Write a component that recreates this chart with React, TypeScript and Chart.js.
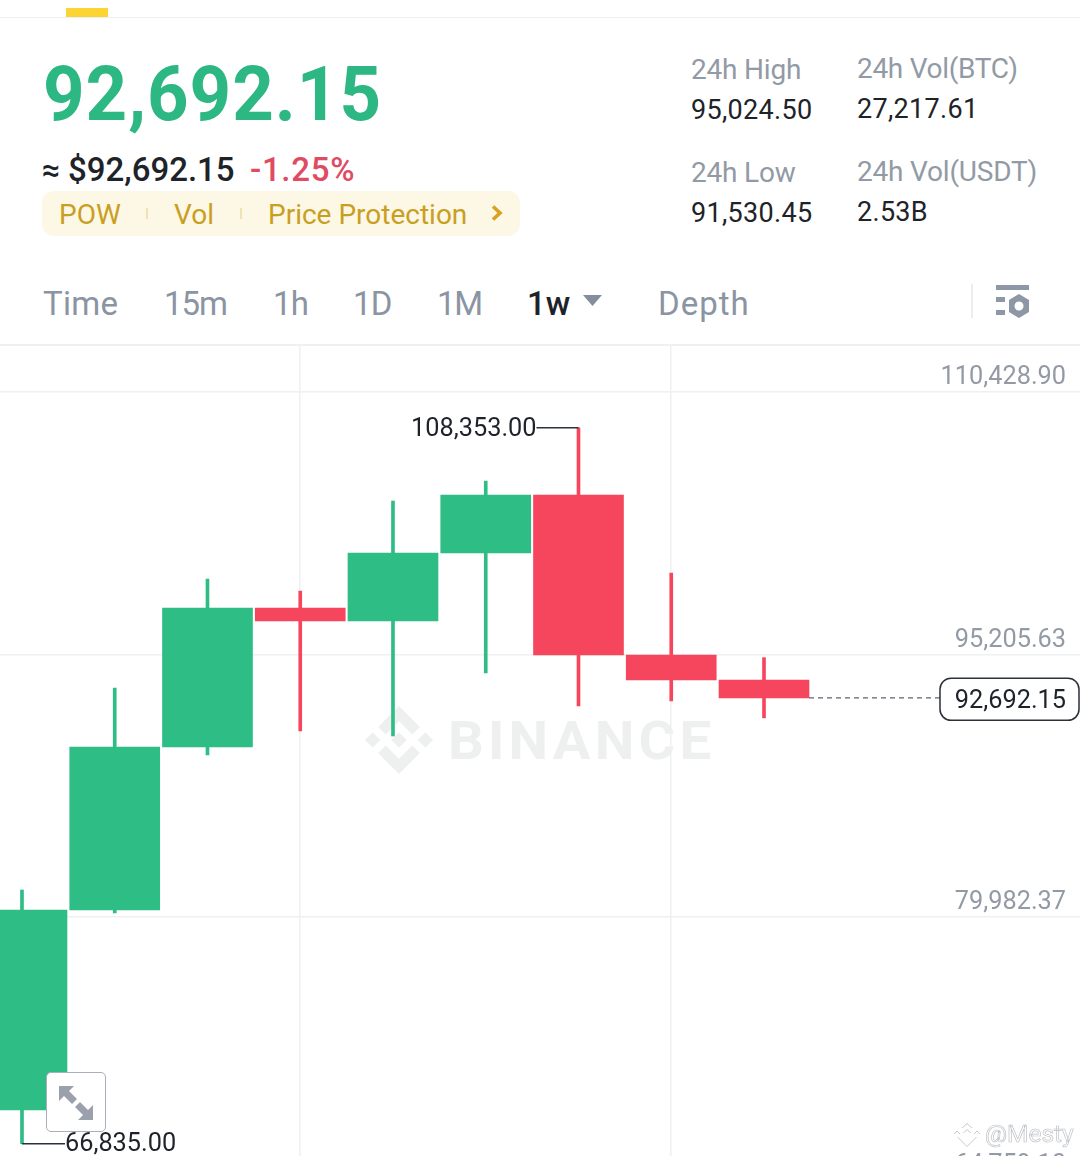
import React, { useEffect, useRef } from "react";
import { Chart, registerables } from "chart.js";

Chart.register(...registerables);

const candleIndex = [0, 1, 2, 3, 4, 5, 6, 7, 8];
const opens = [68792, 80390, 89843, 97903, 97149, 101093, 104456, 95178, 93728];
const highs = [81550, 93264, 99585, 98889, 104108, 105268, 108353, 99933, 95024.5];
const lows = [66835, 80216, 89379, 90770, 90480, 94134, 92220, 92510, 91530.45];
const closes = [80390, 89843, 97903, 97149, 101093, 104456, 95178, 93728, 92692.15];
const priceTicks = [110428.9, 95205.63, 79982.37, 64759.1];
const dateGridIndex = [3, 7];
const tabs = ["Time", "15m", "1h", "1D", "1M", "1w", "Depth"];
const lastPrice = 92692.15;
const highMark = 108353;
const lowMark = 66835;

const GREEN = "#2EBD85";
const RED = "#F6465D";
const GRID = "#EEF0F2";
const FONT = "Roboto, sans-serif";
const fmt = (v: number) =>
  v.toLocaleString("en-US", { minimumFractionDigits: 2, maximumFractionDigits: 2 });
const candleColors = opens.map((o, i) => (closes[i] >= o ? GREEN : RED));

const marksPlugin = {
  id: "marks",
  afterDatasetsDraw(chart: any) {
    const { ctx } = chart;
    const xs = chart.scales.x;
    const ys = chart.scales.y;
    const dark = "#2B3139";
    ctx.save();
    ctx.font = `25.3px ${FONT}`;
    ctx.textBaseline = "middle";

    // highest-price mark
    const hi = highs.indexOf(highMark);
    const hx = xs.getPixelForValue(hi);
    const hy = ys.getPixelForValue(highMark);
    ctx.strokeStyle = dark;
    ctx.lineWidth = 1.5;
    ctx.beginPath();
    ctx.moveTo(hx, hy);
    ctx.lineTo(hx - 42, hy);
    ctx.stroke();
    ctx.fillStyle = "#1E2329";
    ctx.textAlign = "right";
    ctx.fillText(fmt(highMark), hx - 42, hy + 1.5);

    // lowest-price mark
    const li = lows.indexOf(lowMark);
    const lx = xs.getPixelForValue(li);
    const ly = ys.getPixelForValue(lowMark);
    ctx.beginPath();
    ctx.moveTo(lx, ly);
    ctx.lineTo(lx + 43, ly);
    ctx.stroke();
    ctx.textAlign = "left";
    ctx.fillText(fmt(lowMark), lx + 43, ly + 1);

    // last price line and tag
    const py = ys.getPixelForValue(lastPrice);
    const bodyRight = xs.getPixelForValue(candleIndex[candleIndex.length - 1]) + 45;
    const tagLeft = 940;
    ctx.setLineDash([5, 4]);
    ctx.lineWidth = 1.2;
    ctx.strokeStyle = "#5E6673";
    ctx.beginPath();
    ctx.moveTo(bodyRight, py);
    ctx.lineTo(tagLeft, py);
    ctx.stroke();
    ctx.setLineDash([]);
    ctx.fillStyle = "#FFFFFF";
    ctx.strokeStyle = dark;
    ctx.lineWidth = 1.5;
    ctx.beginPath();
    ctx.roundRect(tagLeft, py - 19.5, 139, 42, 11);
    ctx.fill();
    ctx.stroke();
    ctx.fillStyle = "#1E2329";
    ctx.textAlign = "right";
    ctx.fillText(fmt(lastPrice), 1066, py + 3.5);
    ctx.restore();
  },
};

function Txt({ x, y, size, color, weight, spacing, sx, children }: any) {
  return (
    <div
      style={{
        position: "absolute",
        left: x,
        top: y,
        transform: `translateY(-50%) scaleX(${sx ?? 1})`,
        transformOrigin: "left center",
        fontSize: size,
        color,
        fontWeight: weight ?? 400,
        letterSpacing: spacing ?? 0,
        whiteSpace: "nowrap",
        lineHeight: 1.2,
      }}
    >
      {children}
    </div>
  );
}

function Diamond({ x, y, size, color }: any) {
  return (
    <svg
      style={{ position: "absolute", left: x, top: y }}
      width={size}
      height={size}
      viewBox="0 0 126.61 126.61"
    >
      <path
        fill={color}
        d="M38.73 53.2l24.59-24.58 24.6 24.6 14.3-14.31L63.32 0 24.43 38.9zM0 63.31l14.3-14.31 14.31 14.31-14.31 14.3zM38.73 73.41l24.59 24.59 24.6-24.6 14.31 14.29-38.9 38.91-38.91-38.88-.02-.02zM98.04 63.31l14.3-14.3 14.31 14.3-14.31 14.3zM77.83 63.3L63.32 48.78 52.59 59.51l-1.24 1.23-2.54 2.54 14.51 14.5 14.51-14.47z"
      />
    </svg>
  );
}

const noPad = (s: any) => {
  s.paddingTop = 0;
  s.paddingBottom = 0;
  s.paddingLeft = 0;
  s.paddingRight = 0;
};

export default function App() {
  const ref = useRef<HTMLCanvasElement | null>(null);

  useEffect(() => {
    if (!ref.current) return;
    const chart = new Chart(ref.current, {
      type: "bar",
      data: {
        datasets: [
          {
            label: "Wick",
            data: candleIndex.map((i) => ({ x: i, y: [lows[i], highs[i]] })),
            backgroundColor: candleColors,
            barThickness: 3,
            grouped: false,
            order: 2,
          },
          {
            label: "Body",
            data: candleIndex.map((i) => ({ x: i, y: [opens[i], closes[i]] })),
            backgroundColor: candleColors,
            barThickness: 90,
            grouped: false,
            order: 1,
          },
        ],
      } as any,
      options: {
        responsive: false,
        animation: false,
        devicePixelRatio: 1,
        layout: { padding: 0 },
        plugins: { legend: { display: false }, tooltip: { enabled: false } },
        scales: {
          x: {
            type: "linear",
            min: -0.237,
            max: 11.407,
            offset: false,
            border: { display: false },
            ticks: { display: false, autoSkip: false },
            grid: { color: GRID, lineWidth: 1.5, drawTicks: false, offset: false },
            afterBuildTicks: (s: any) => {
              s.ticks = dateGridIndex.map((value) => ({ value }));
            },
            afterFit: (s: any) => {
              s.height = 0;
              noPad(s);
            },
          },
          y: {
            type: "linear",
            position: "right",
            min: 66122.7,
            max: 113154.5,
            border: { display: false },
            grid: { color: GRID, lineWidth: 1.5, drawTicks: false },
            ticks: {
              mirror: true,
              padding: -14,
              autoSkip: false,
              labelOffset: -14,
              color: "#929AA5",
              font: { family: "Roboto", size: 25.3 },
              callback: (v: any) => fmt(Number(v)),
            },
            afterBuildTicks: (s: any) => {
              s.ticks = priceTicks.map((value) => ({ value }));
            },
            afterFit: (s: any) => {
              s.width = 0;
              noPad(s);
            },
          },
        },
      } as any,
      plugins: [marksPlugin],
    });
    return () => chart.destroy();
  }, []);

  const grey = "#929AA5";
  const black = "#1E2329";
  const gold = "#C99F22";
  const tabX = [43, 164, 273, 353, 437, 527, 658];
  const tabSpacing = [0.3, -1, -0.7, -0.7, -1.2, 0, 1];

  return (
    <div
      style={{
        position: "fixed",
        left: 0,
        top: 0,
        width: 1080,
        height: 1156,
        overflow: "hidden",
        background: "#FFFFFF",
        fontFamily: FONT,
      }}
    >
      <div style={{ position: "absolute", left: 0, top: 17, width: 1080, height: 1, background: "#ECEEF0" }} />
      <div style={{ position: "absolute", left: 66, top: 8, width: 42, height: 9, background: "#FCD535" }} />

      <Txt x={43} y={95} size={76} color="#2DB783" weight={700} sx={0.955} spacing={1}>92,692.15</Txt>
      <Txt x={42} y={170} size={32} color={black} weight={500}>≈</Txt>
      <Txt x={68} y={170} size={33} color={black} weight={500}>$92,692.15</Txt>
      <Txt x={250} y={170} size={33} color="#DF4B63" weight={500} spacing={0.7}>-1.25%</Txt>

      <div style={{ position: "absolute", left: 42, top: 191, width: 478, height: 45, borderRadius: 12, background: "#FDF7E6" }} />
      <Txt x={59} y={215} size={28} color={gold}>POW</Txt>
      <div style={{ position: "absolute", left: 146, top: 208, width: 2, height: 11, background: "#EFE2B5" }} />
      <Txt x={174} y={215} size={28} color={gold}>Vol</Txt>
      <div style={{ position: "absolute", left: 240, top: 208, width: 2, height: 11, background: "#EFE2B5" }} />
      <Txt x={268} y={215} size={28} color={gold}>Price Protection</Txt>
      <svg style={{ position: "absolute", left: 490, top: 204 }} width={14} height={18} viewBox="0 0 14 18">
        <path d="M3 2.5 L10 9 L3 15.5" fill="none" stroke="#D8A31E" strokeWidth={3.6} />
      </svg>

      <Txt x={691} y={70} size={28} color={grey} spacing={-0.2}>24h High</Txt>
      <Txt x={691} y={110} size={27} color={black} spacing={0.3}>95,024.50</Txt>
      <Txt x={691} y={173} size={28} color={grey} spacing={-0.2}>24h Low</Txt>
      <Txt x={691} y={213} size={27} color={black} spacing={0.3}>91,530.45</Txt>
      <Txt x={857} y={69} size={28} color={grey} spacing={-0.3}>24h Vol(BTC)</Txt>
      <Txt x={857} y={109} size={27} color={black} spacing={0.3}>27,217.61</Txt>
      <Txt x={857} y={172} size={28} color={grey} spacing={-0.2}>24h Vol(USDT)</Txt>
      <Txt x={857} y={212} size={27} color={black} spacing={0.3}>2.53B</Txt>

      {tabs.map((t, i) => (
        <Txt
          key={t}
          x={tabX[i]}
          y={304}
          size={33}
          color={t === "1w" ? black : "#8A94A2"}
          weight={t === "1w" ? 500 : 400}
          spacing={tabSpacing[i]}
        >
          {t}
        </Txt>
      ))}
      <svg style={{ position: "absolute", left: 582, top: 294 }} width={21} height={14} viewBox="0 0 21 14">
        <path d="M1 1 H20 L10.5 12 Z" fill="#848E9C" />
      </svg>
      <div style={{ position: "absolute", left: 971, top: 284, width: 2, height: 34, background: "#EAECEF" }} />
      <svg style={{ position: "absolute", left: 995, top: 284 }} width={36} height={36} viewBox="0 0 36 36">
        <g fill="#8E97A5">
          <rect x="1" y="1" width="33" height="5" />
          <rect x="1" y="13" width="9" height="5" />
          <rect x="1" y="26" width="9" height="5" />
          <path fillRule="evenodd" d="M24 10 L34 16 V28 L24 34 L14 28 V16 Z M24 17.5 a4.5 4.5 0 1 0 0.01 0 Z" />
        </g>
      </svg>

      <div style={{ position: "absolute", left: 0, top: 344, width: 1080, height: 2, background: "#EEF0F2" }} />

      {/* watermark sits under the transparent chart canvas */}
      <Diamond x={365} y={706} size={68} color="#EEF0F0" />
      <Txt x={448} y={741} size={54} color="#EEF0F0" weight={700} sx={1.04} spacing={4}>BINANCE</Txt>

      <canvas
        ref={ref}
        width={1080}
        height={811}
        style={{ position: "absolute", left: 0, top: 345, width: 1080, height: 811 }}
      />

      <div
        style={{
          position: "absolute",
          left: 46,
          top: 1072,
          width: 58,
          height: 58,
          background: "#FFFFFF",
          border: "1.5px solid #A9AFB8",
          borderRadius: 5,
        }}
      />
      <svg style={{ position: "absolute", left: 57, top: 1084 }} width={38} height={38} viewBox="0 0 38 38">
        <g fill="#9AA1AD">
          <path d="M2 2 H17 L12 7 L20 15 L15 20 L7 12 L2 17 Z" />
          <path d="M36 36 H21 L26 31 L18 23 L23 18 L31 26 L36 21 Z" />
        </g>
      </svg>

      <svg style={{ position: "absolute", left: 953, top: 1122 }} width={28} height={26} viewBox="0 0 28 26">
        <g fill="none" stroke="#C4C8CC" strokeWidth={1}>
          <path d="M9 6 L14 1.5 L19 6" />
          <path d="M1 12 L4 9 L7 12" />
          <path d="M21 12 L24 9 L27 12" />
          <path d="M10.5 11 L14 7.5 L17.5 11" />
          <path d="M4.5 15 L14 24.5 L23.5 15" />
        </g>
      </svg>
      <div
        style={{
          position: "absolute",
          left: 985,
          top: 1119,
          fontSize: 24.5,
          lineHeight: "30px",
          color: "transparent",
          WebkitTextStroke: "0.7px #BFC3C8",
          whiteSpace: "nowrap",
        }}
      >
        @Mesty
      </div>
    </div>
  );
}
